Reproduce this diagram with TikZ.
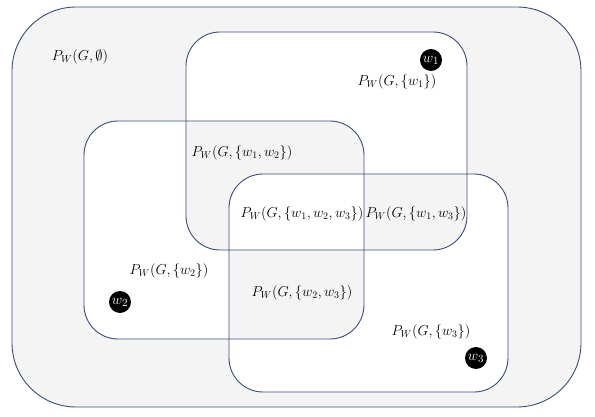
\documentclass[tikz,border=0pt]{standalone}
\usepackage{amssymb}
\definecolor{edgeblue}{HTML}{3A4D78}
\definecolor{boxgray}{HTML}{F4F4F4}
\tikzset{
  lbl/.style={inner sep=0pt, font=\fontsize{14.5}{17}\selectfont},
  dot/.style={circle, fill=black, minimum size=22pt, inner sep=0pt, text=white, font=\fontsize{15}{17}\selectfont},
  frame/.style={draw=edgeblue, line width=0.9pt},
}
\begin{document}
\begin{tikzpicture}[x=1pt,y=-1pt]
\useasboundingbox (0,0) rectangle (595,417);
% background shading, even-odd rule
\fill[boxgray, even odd rule]
  [rounded corners=64] (12,7) rectangle (581,407)
  [rounded corners=34] (186,32) rectangle (467,250)
  (84,121) rectangle (364,339)
  (229,174) rectangle (508,392);
% outlines
\draw[frame, rounded corners=64] (12,7) rectangle (581,407);
\draw[frame, rounded corners=34] (186,32) rectangle (467,250);
\draw[frame, rounded corners=34] (84,121) rectangle (364,339);
\draw[frame, rounded corners=34] (229,174) rectangle (508,392);
% labels
\node[lbl] (l0) at (80,57) {$P_W(G,\emptyset)$};
\node[lbl] (l1) at (397,82) {$P_W(G,\{w_1\})$};
\node[lbl] (l12) at (242,153) {$P_W(G,\{w_1,w_2\})$};
\node[lbl] (l123) at (302,214) {$P_W(G,\{w_1,w_2,w_3\})$};
\node[lbl] (l13) at (416,214) {$P_W(G,\{w_1,w_3\})$};
\node[lbl] (l2) at (169,271) {$P_W(G,\{w_2\})$};
\node[lbl] (l23) at (302,293) {$P_W(G,\{w_2,w_3\})$};
\node[lbl] (l3) at (431,332) {$P_W(G,\{w_3\})$};
% elements
\node[dot] (w1) at (431,60) {$w_1$};
\node[dot] (w2) at (120,302) {$w_2$};
\node[dot] (w3) at (476,358) {$w_3$};
\end{tikzpicture}
\end{document}
